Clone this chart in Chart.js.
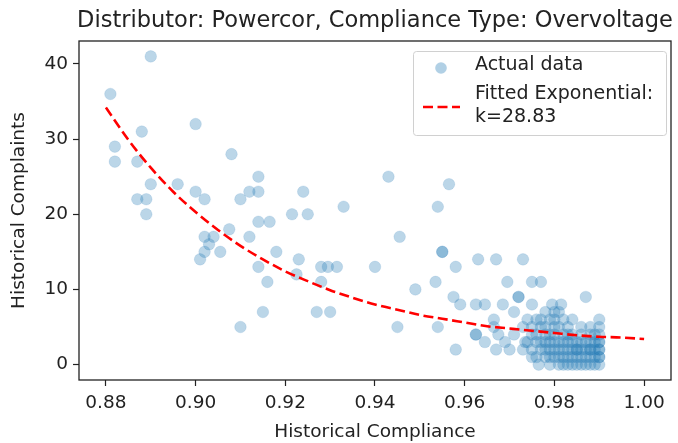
<!DOCTYPE html>
<html>
<head>
<meta charset="utf-8">
<script src="https://cdn.jsdelivr.net/npm/chart.js@4"></script>
<style>
  html, body { margin: 0; padding: 0; background: #fff; }
  canvas { display: block; }
</style>
</head>
<body>
<canvas id="chart" width="678" height="443"></canvas>
<script>
// Scatter points (x = compliance, y = complaints)
var complianceX = [
    0.881, 0.890, 0.900, 0.888, 0.882, 0.882, 0.887, 0.908, 0.890, 0.896,
    0.914, 0.900, 0.902, 0.910, 0.912, 0.914, 0.924, 0.887, 0.889, 0.889,
    0.9215, 0.925, 0.933, 0.914, 0.9165, 0.9075, 0.902, 0.904, 0.903, 0.912,
    0.902, 0.901, 0.9055, 0.918, 0.923, 0.914, 0.9225, 0.916, 0.928, 0.9295,
    0.9315, 0.928, 0.940, 0.915, 0.927, 0.930, 0.910,
    0.943, 0.9565, 0.954, 0.9455, 0.955, 0.955, 0.958, 0.963, 0.967, 0.973,
    0.949, 0.9535, 0.9695, 0.975, 0.977, 0.9575, 0.959, 0.9625, 0.9645, 0.9685,
    0.972, 0.972, 0.975, 0.9795, 0.9815, 0.987, 0.971, 0.945, 0.954, 0.958,
    0.9625, 0.9625, 0.9665, 0.9645, 0.967, 0.969, 0.970, 0.9675, 0.971, 0.9665,
    0.9735, 0.975, 0.9765,
    0.973, 0.973,
    0.974, 0.974,
    0.975, 0.975, 0.975,
    0.976, 0.976, 0.976, 0.976,
    0.977, 0.977, 0.977, 0.977,
    0.978, 0.978, 0.978, 0.978, 0.978, 0.978,
    0.979, 0.979, 0.979, 0.979, 0.979, 0.979,
    0.980, 0.980, 0.980, 0.980, 0.980, 0.980, 0.980,
    0.981, 0.981, 0.981, 0.981, 0.981, 0.981,
    0.982, 0.982, 0.982, 0.982, 0.982, 0.982,
    0.983, 0.983, 0.983, 0.983, 0.983, 0.983,
    0.984, 0.984, 0.984, 0.984, 0.984, 0.984,
    0.985, 0.985, 0.985, 0.985, 0.985,
    0.986, 0.986, 0.986, 0.986, 0.986, 0.986,
    0.987, 0.987, 0.987, 0.987,
    0.988, 0.988, 0.988, 0.988, 0.988, 0.988, 0.988,
    0.989, 0.989, 0.989, 0.989, 0.989,
    0.990, 0.990, 0.990, 0.990, 0.990, 0.990, 0.990, 0.990, 0.990, 0.990
];
var complaintsY = [
    36, 41, 32, 31, 29, 27, 27, 28, 24, 24,
    25, 23, 22, 22, 23, 23, 23, 22, 22, 20,
    20, 20, 21, 19, 19, 18, 17, 17, 16, 17,
    15, 14, 15, 15, 14, 13, 12, 11, 13, 13,
    13, 11, 13, 7, 7, 7, 5,
    25, 24, 21, 17, 15, 15, 13, 14, 14, 14,
    10, 11, 11, 11, 11, 9, 8, 8, 8, 8,
    9, 9, 8, 8, 8, 9, 7, 5, 5, 2,
    4, 4, 6, 3, 2, 3, 2, 4, 4, 5,
    3, 1, 0,
    2, 5,
    3, 6,
    2, 4, 5,
    1, 3, 4, 6,
    2, 3, 5, 6,
    1, 2, 3, 4, 5, 7,
    0, 1, 2, 3, 4, 6,
    1, 2, 3, 4, 5, 6, 7,
    0, 1, 2, 3, 5, 7,
    0, 1, 2, 3, 4, 6,
    0, 1, 2, 3, 4, 5,
    0, 1, 2, 3, 4, 6,
    0, 1, 2, 2, 3,
    0, 1, 2, 3, 4, 5,
    0, 1, 2, 3,
    0, 1, 2, 2, 3, 4, 5,
    0, 1, 2, 3, 4,
    0, 1, 1, 2, 2, 3, 3, 4, 5, 6
];

// Fitted exponential curve
var fitX = [0.880, 0.885, 0.890, 0.895, 0.900, 0.905, 0.910, 0.915, 0.920, 0.925,
            0.930, 0.935, 0.940, 0.945, 0.950, 0.955, 0.960, 0.965, 0.970, 0.975,
            0.980, 0.985, 0.990, 0.995, 1.000];
var fitY = [34.2, 29.9, 26.2, 23.0, 20.3, 17.9, 15.8, 14.0, 12.4, 11.1,
            9.9, 8.9, 8.0, 7.3, 6.6, 6.1, 5.6, 5.1, 4.8, 4.5,
            4.2, 3.9, 3.7, 3.6, 3.4];

var xTicks = [0.88, 0.90, 0.92, 0.94, 0.96, 0.98, 1.00];
var yTicks = [0, 10, 20, 30, 40];

var TITLE = "Distributor: Powercor, Compliance Type: Overvoltage";
var FONT = "'DejaVu Sans', sans-serif";

var scatterPts = complianceX.map(function (x, i) { return { x: x, y: complaintsY[i] }; });
var fitPts = fitX.map(function (x, i) { return { x: x, y: fitY[i] }; });

// ── Frame, title and legend drawn like matplotlib ──
var decor = {
    id: "decor",
    afterDraw: function (chart) {
        var ctx = chart.ctx;
        var a = chart.chartArea;
        ctx.save();

        // spines on all four sides
        ctx.strokeStyle = "#222";
        ctx.lineWidth = 1.3;
        ctx.strokeRect(a.left, a.top, a.right - a.left, a.bottom - a.top);

        // title centred over the axes
        ctx.fillStyle = "#222";
        ctx.font = "22.5px " + FONT;
        ctx.textAlign = "center";
        ctx.textBaseline = "alphabetic";
        ctx.fillText(TITLE, (a.left + a.right) / 2, 27);

        // legend box
        ctx.beginPath();
        ctx.roundRect(413.5, 51.5, 253, 84, 3);
        ctx.fillStyle = "rgba(255,255,255,0.8)";
        ctx.fill();
        ctx.strokeStyle = "#d0d0d0";
        ctx.lineWidth = 1;
        ctx.stroke();

        ctx.beginPath();
        ctx.arc(441, 68, 5.8, 0, Math.PI * 2);
        ctx.fillStyle = "rgba(31,119,180,0.35)";
        ctx.fill();

        ctx.beginPath();
        ctx.setLineDash([10, 4.5]);
        ctx.strokeStyle = "#ff0000";
        ctx.lineWidth = 2.6;
        ctx.moveTo(423, 107);
        ctx.lineTo(460, 107);
        ctx.stroke();
        ctx.setLineDash([]);

        ctx.fillStyle = "#222";
        ctx.font = "19px " + FONT;
        ctx.textAlign = "left";
        ctx.textBaseline = "middle";
        ctx.fillText("Actual data", 475, 65);
        ctx.fillText("Fitted Exponential:", 475, 94);
        ctx.fillText("k=28.83", 475, 117);
        ctx.restore();
    }
};

new Chart(document.getElementById("chart"), {
    type: "scatter",
    data: {
        datasets: [{
            label: "Fitted Exponential",
            type: "line",
            data: fitPts,
            showLine: true,
            borderColor: "#ff0000",
            borderWidth: 2.6,
            borderDash: [10, 4.5],
            pointRadius: 0,
            cubicInterpolationMode: "monotone",
            fill: false,
            order: 0
        }, {
            label: "Actual data",
            data: scatterPts,
            backgroundColor: "rgba(31,119,180,0.3)",
            borderColor: "rgba(31,119,180,0.12)",
            borderWidth: 1,
            pointRadius: 5.8,
            order: 1
        }]
    },
    options: {
        responsive: false,
        animation: false,
        devicePixelRatio: 1,
        layout: { padding: { top: 41, right: 7, left: 0, bottom: 0 } },
        plugins: {
            legend: { display: false },
            title: { display: false },
            tooltip: { enabled: false }
        },
        scales: {
            x: {
                type: "linear",
                min: 0.874,
                max: 1.006,
                afterBuildTicks: function (axis) {
                    axis.ticks = xTicks.map(function (v) { return { value: v }; });
                },
                afterFit: function (axis) { axis.height = 63; },
                grid: { display: true, drawOnChartArea: false, drawTicks: true, tickLength: 6, color: "#222", tickWidth: 1.2 },
                border: { display: false },
                ticks: {
                    padding: 6,
                    color: "#222",
                    font: { family: FONT, size: 18.5 },
                    maxRotation: 0,
                    callback: function (v) { return v.toFixed(2); }
                },
                title: {
                    display: true,
                    text: "Historical Compliance",
                    color: "#222",
                    font: { family: FONT, size: 18.5 },
                    padding: { top: 0, bottom: 0 }
                }
            },
            y: {
                type: "linear",
                min: -2.05,
                max: 43.05,
                afterBuildTicks: function (axis) {
                    axis.ticks = yTicks.map(function (v) { return { value: v }; });
                },
                afterFit: function (axis) { axis.width = 79; },
                grid: { display: true, drawOnChartArea: false, drawTicks: true, tickLength: 6, color: "#222", tickWidth: 1.2 },
                border: { display: false },
                ticks: {
                    padding: 5,
                    color: "#222",
                    font: { family: FONT, size: 18.5 },
                    callback: function (v) { return String(v); }
                },
                title: {
                    display: true,
                    text: "Historical Complaints",
                    color: "#222",
                    font: { family: FONT, size: 18.5 },
                    padding: { top: 8, bottom: 0 }
                }
            }
        }
    },
    plugins: [decor]
});
</script>
</body>
</html>
